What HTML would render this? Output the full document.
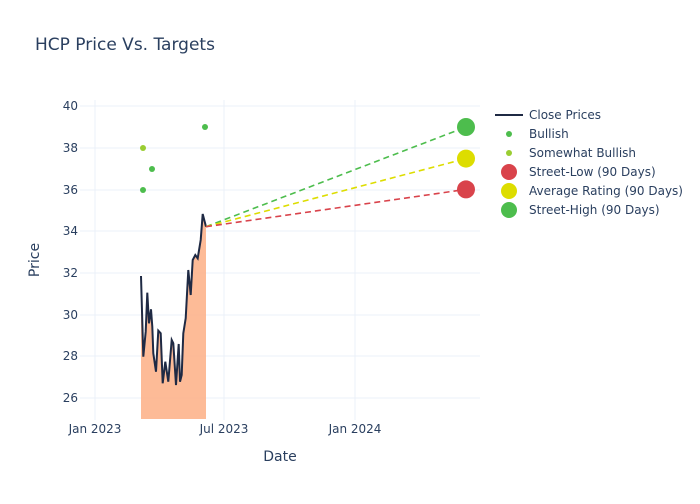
<!DOCTYPE html>
<html><head><style>body{margin:0;background:#fff;font-family:"DejaVu Sans",sans-serif}</style></head><body>
<svg width="700" height="500" xmlns="http://www.w3.org/2000/svg" font-family="DejaVu Sans, sans-serif">
<rect width="700" height="500" fill="#fff"/>
<text x="35" y="50" font-size="17" fill="#2a3f5f">HCP Price Vs. Targets</text>
<g stroke="#ebf0f8" stroke-width="1">
<line x1="80" x2="480" y1="106" y2="106"/><line x1="80" x2="480" y1="148" y2="148"/><line x1="80" x2="480" y1="190" y2="190"/><line x1="80" x2="480" y1="231" y2="231"/><line x1="80" x2="480" y1="273" y2="273"/><line x1="80" x2="480" y1="315" y2="315"/><line x1="80" x2="480" y1="356" y2="356"/><line x1="80" x2="480" y1="398" y2="398"/>
<line x1="95" x2="95" y1="100" y2="420"/><line x1="224" x2="224" y1="100" y2="420"/><line x1="355" x2="355" y1="100" y2="420"/>
</g>
<g font-size="12" fill="#2a3f5f" text-anchor="end">
<text x="78" y="110">40</text><text x="78" y="152">38</text><text x="78" y="194">36</text><text x="78" y="235">34</text><text x="78" y="277">32</text><text x="78" y="319">30</text><text x="78" y="360">28</text><text x="78" y="402">26</text>
</g>
<g font-size="12" fill="#2a3f5f" text-anchor="middle">
<text x="95" y="433">Jan 2023</text><text x="224" y="433">Jul 2023</text><text x="355" y="433">Jan 2024</text>
</g>
<text x="280" y="461" font-size="14" fill="#2a3f5f" text-anchor="middle">Date</text>
<text transform="translate(39,260) rotate(-90)" font-size="14" fill="#2a3f5f" text-anchor="middle">Price</text>
<polygon fill="#fdb48c" fill-opacity="0.9" points="141,419 141,276 143.3,356.7 145.7,331.7 147.3,292.7 149,323.3 151,309.3 152.3,326.7 153.3,353.3 156,371.7 158.3,330.7 160.7,333.3 162.7,383.3 165.3,361.7 168.3,381.7 171.7,340 173.3,343.3 176,385 178.7,344 180,381.7 181.7,375 183.3,333.3 185.7,318.3 188.3,270 190.7,295 192.7,260 195.3,255 197.7,258.3 200.7,240 202.7,214 206,226.7 206,419"/>
<polyline fill="none" stroke="#1f2a44" stroke-width="2" points="141,276 143.3,356.7 145.7,331.7 147.3,292.7 149,323.3 151,309.3 152.3,326.7 153.3,353.3 156,371.7 158.3,330.7 160.7,333.3 162.7,383.3 165.3,361.7 168.3,381.7 171.7,340 173.3,343.3 176,385 178.7,344 180,381.7 181.7,375 183.3,333.3 185.7,318.3 188.3,270 190.7,295 192.7,260 195.3,255 197.7,258.3 200.7,240 202.7,214 206,226.7"/>
<g stroke-width="1.6" stroke-dasharray="6,4" fill="none">
<line x1="206" y1="226.7" x2="466" y2="127" stroke="#4dbd4d"/>
<line x1="206" y1="226.7" x2="466" y2="158.6" stroke="#dddd00"/>
<line x1="206" y1="226.7" x2="466" y2="189.4" stroke="#d9434b"/>
</g>
<circle cx="143" cy="148" r="3" fill="#9acd32"/><circle cx="143" cy="190" r="3" fill="#4dbd4d"/><circle cx="152" cy="169" r="3" fill="#4dbd4d"/><circle cx="205" cy="127" r="3" fill="#4dbd4d"/>
<circle cx="466" cy="189.4" r="9" fill="#d9434b"/><circle cx="466" cy="158.6" r="9" fill="#dddd00"/><circle cx="466" cy="127" r="9" fill="#4dbd4d"/>
<g font-size="12" fill="#2a3f5f">
<line x1="495" x2="523" y1="115" y2="115" stroke="#1f2a44" stroke-width="2"/><text x="529" y="119">Close Prices</text>
<circle cx="509" cy="134" r="3" fill="#4dbd4d"/><text x="529" y="138">Bullish</text>
<circle cx="509" cy="153" r="3" fill="#9acd32"/><text x="529" y="157">Somewhat Bullish</text>
<circle cx="509" cy="172" r="8" fill="#d9434b"/><text x="529" y="176">Street-Low (90 Days)</text>
<circle cx="509" cy="191" r="8" fill="#dddd00"/><text x="529" y="195">Average Rating (90 Days)</text>
<circle cx="509" cy="210" r="8" fill="#4dbd4d"/><text x="529" y="214">Street-High (90 Days)</text>
</g>
</svg>
</body></html>
